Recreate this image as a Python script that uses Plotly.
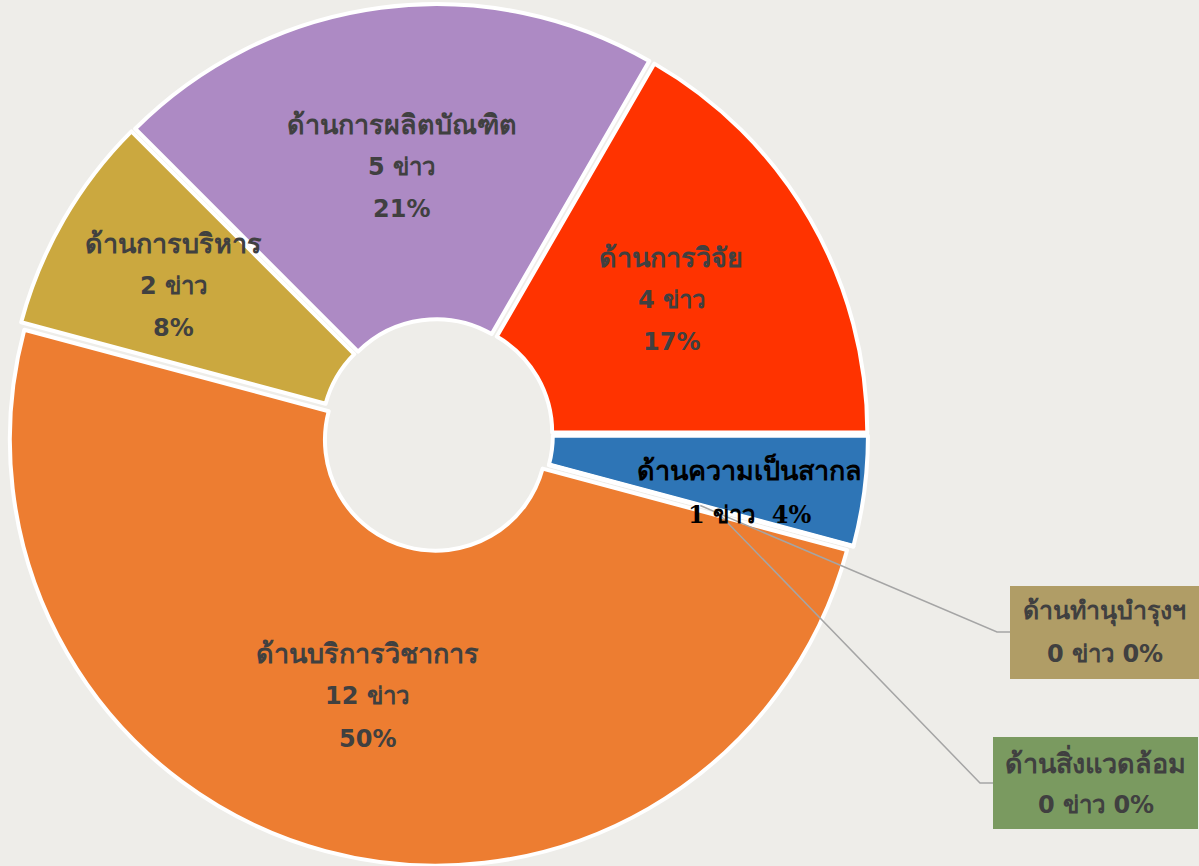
import math
import plotly.graph_objects as go

# ---------------- data (clockwise from 3 o'clock) ----------------
labels = ["ด้านความเป็นสากล", "ด้านทำนุบำรุงฯ", "ด้านสิ่งแวดล้อม", "ด้านบริการวิชาการ",
          "ด้านการบริหาร", "ด้านการผลิตบัณฑิต", "ด้านการวิจัย"]
values = [1, 0, 0, 12, 2, 5, 4]
unit = "ข่าว"

# ---------------- style ----------------
colors = ["#2E75B6", "#B09D66", "#7A9A60", "#ED7D31", "#CBA83F", "#AD8AC4", "#FF3300"]
text_colors = ["#000000", "#404040", "#404040", "#404040", "#404040", "#404040", "#404040"]
label_r = [0.74, 0, 0, 0.635, 0.70, 0.635, 0.635]   # fraction of outer radius
BG = "#EEEDE9"
W, H = 1199, 866
CX, CY = 437, 435
BOX = 862
PULL = 0.012
R = BOX / 2 / (1 + PULL)
HOLE = 0.26
FONT = "'DejaVu Sans', sans-serif"
SERIF = "'DejaVu Serif', 'Liberation Serif', serif"
FS_LABEL = 27
FS_NUM = 24


def px(x):
    return x / W


def py(y):
    return 1 - y / H


total = sum(values)
fig = go.Figure(go.Pie(
    labels=labels, values=values, sort=False, direction="clockwise", rotation=90,
    hole=HOLE, pull=PULL, textinfo="none", hoverinfo="label+value+percent",
    marker=dict(colors=colors, line=dict(color="white", width=4)),
    domain=dict(x=[(CX - BOX / 2) / W, (CX + BOX / 2) / W],
                y=[1 - (CY + BOX / 2) / H, 1 - (CY - BOX / 2) / H]),
    showlegend=False,
))

annotations = []
shapes = []


def add_text(x, y, t, size, color, fam):
    annotations.append(dict(x=px(x), y=py(y), xref="paper", yref="paper", text=f"<b>{t}</b>",
                            showarrow=False, xanchor="center", yanchor="middle",
                            font=dict(family=fam, size=size, color=color)))


cum = 0.0
bounds = []
for i, (lab, v) in enumerate(zip(labels, values)):
    a0 = -cum / total * 360
    cum += v
    a1 = -cum / total * 360
    bounds.append(a1)
    pct = round(v / total * 100)
    if v == 0:
        continue
    mid = math.radians((a0 + a1) / 2)
    r = label_r[i] * R
    x = CX + r * math.cos(mid)
    y = CY - r * math.sin(mid)
    if i == 0:
        lines = [(lab, FS_LABEL), (f"{v} {unit}  {pct}%", FS_NUM)]
        gap = 45
        fam = SERIF
        y += 16
    else:
        lines = [(lab, FS_LABEL), (f"{v} {unit}", FS_NUM), (f"{pct}%", FS_NUM)]
        gap = 42.5
        fam = FONT
        if i == 4:
            x -= 5
    n = len(lines)
    for k, (t, s) in enumerate(lines):
        add_text(x, y + (k - (n - 1) / 2) * gap, t, s, text_colors[i], fam)

# zero-value callouts (leader lines start at the slice boundary where the 0-value slices sit)
callouts = {
    1: dict(r=0.64, elbow=(997, 632), box=(1010, 586, 1215, 679), fs=25),
    2: dict(r=0.675, elbow=(980, 783), box=(993, 737, 1198, 829), fs=FS_LABEL),
}
for i, v in enumerate(values):
    if v != 0:
        continue
    c = callouts[i]
    ang = math.radians(bounds[i])
    sx = CX + c["r"] * R * math.cos(ang)
    sy = CY - c["r"] * R * math.sin(ang)
    ex, ey = c["elbow"]
    bx0, by0, bx1, by1 = c["box"]
    shapes.append(dict(type="rect", xref="paper", yref="paper", x0=px(bx0), x1=px(bx1),
                       y0=py(by1), y1=py(by0), fillcolor=colors[i], line=dict(width=0), layer="above"))
    shapes.append(dict(type="path", xref="paper", yref="paper",
                       path=f"M {px(sx)} {py(sy)} L {px(ex)} {py(ey)} L {px(bx0)} {py(ey)}",
                       line=dict(color="#A5A5A5", width=1.5)))
    pct = round(v / total * 100)
    xc = (bx0 + min(bx1, W)) / 2
    yc = (by0 + by1) / 2
    add_text(xc, yc - 21.5, labels[i], c["fs"], "#404040", FONT)
    add_text(xc, yc + 21.5, f"{v} {unit} {pct}%", FS_NUM, "#404040", FONT)

fig.update_layout(width=W, height=H, margin=dict(l=0, r=0, t=0, b=0),
                  paper_bgcolor=BG, plot_bgcolor=BG,
                  annotations=annotations, shapes=shapes)
fig.write_html("out.html", config={"displayModeBar": False},
               post_script="document.body.style.margin='0';document.body.style.overflow='hidden';"
                           "document.body.style.background='" + BG + "';")
